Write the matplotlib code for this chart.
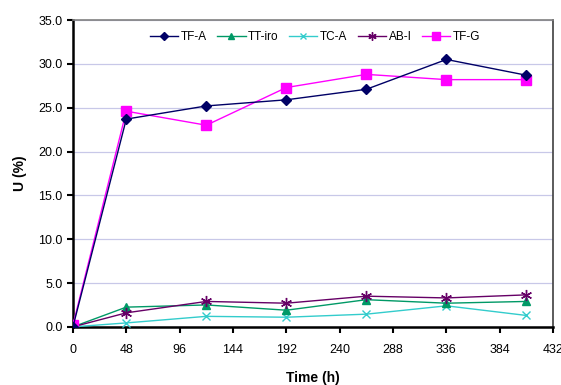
import matplotlib
matplotlib.use("Agg")
import matplotlib.pyplot as plt

plt.rcParams['font.family'] = ['Liberation Sans', 'DejaVu Sans']

time_h = [0, 48, 120, 192, 264, 336, 408]
tf_a = [0.0, 23.7, 25.2, 25.9, 27.1, 30.5, 28.7]
tt_iro = [0.0, 2.25, 2.5, 1.9, 3.1, 2.7, 2.9]
tc_a = [0.0, 0.45, 1.2, 1.1, 1.45, 2.4, 1.3]
ab_i = [0.0, 1.6, 2.9, 2.7, 3.5, 3.3, 3.65]
tf_g = [0.2, 24.6, 23.0, 27.3, 28.8, 28.2, 28.2]

x_ticks = list(range(0, 433, 48))
y_ticks = [0, 5, 10, 15, 20, 25, 30, 35]

fig = plt.figure(figsize=(5.61, 3.85), dpi=100)
ax = fig.add_axes([0.130, 0.151, 0.856, 0.797])

ax.plot(time_h, tf_a, color='#000066', marker='D', markersize=5, lw=1, label='TF-A', zorder=5)
ax.plot(time_h, tt_iro, color='#009966', marker='^', markersize=6, lw=1, label='TT-iro', zorder=4)
ax.plot(time_h, tc_a, color='#33CCCC', marker='x', markersize=6, lw=1, label='TC-A', zorder=3)
ax.plot(time_h, ab_i, color='#660066', marker=(6, 2, 0), markersize=8, lw=1, label='AB-I', zorder=4)
ax.plot(time_h, tf_g, color='#FF00FF', marker='s', markersize=7, lw=1, label='TF-G', zorder=4)

ax.set_xlim(0, 432)
ax.set_ylim(0, 35)
ax.set_xticks(x_ticks)
ax.set_yticks(y_ticks)
ax.set_yticklabels([f"{v:.1f}" for v in y_ticks])
ax.yaxis.grid(True, color='#C8C8E8', lw=0.9)
ax.set_axisbelow(True)

ax.tick_params(axis='both', labelsize=9, direction='out', length=4, width=1.5, color='black')
ax.tick_params(axis='x', pad=8)
ax.spines['left'].set_linewidth(1.8)
ax.spines['bottom'].set_linewidth(1.8)
ax.spines['top'].set_color('#808080')
ax.spines['right'].set_color('#404040')
ax.spines['top'].set_linewidth(1.2)
ax.spines['right'].set_linewidth(1.2)

ax.set_xlabel('Time (h)', fontsize=10, fontweight='bold', labelpad=11)
ax.set_ylabel('U (%)', fontsize=10, fontweight='bold', labelpad=8)

ax.legend(loc='upper center', ncol=5, frameon=False, fontsize=8.5, bbox_to_anchor=(0.504, 1.0),
          handlelength=2.4, handletextpad=0.2, columnspacing=0.9, markerscale=0.75)

fig.savefig('out.png', dpi=100)
